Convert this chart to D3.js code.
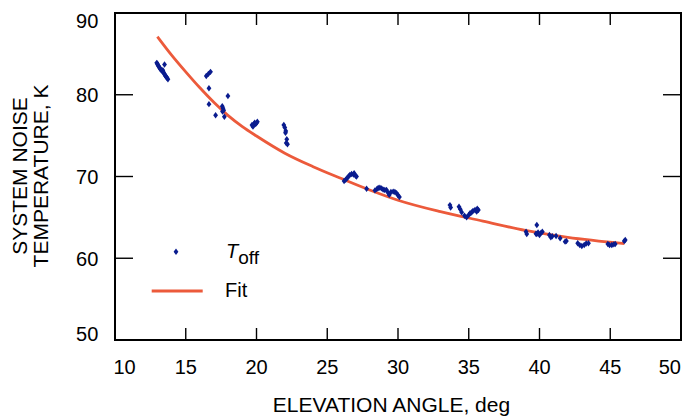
<!DOCTYPE html>
<html>
<head>
<meta charset="utf-8">
<script src="https://cdn.jsdelivr.net/npm/d3@7"></script>
<style>
  html, body { margin: 0; padding: 0; background: #fff; }
  svg { display: block; }
  text { font-family: "Liberation Sans", Arial, Helvetica, sans-serif; fill: #000; }
</style>
</head>
<body>
<svg id="chart" width="683" height="417"></svg>
<script>
// ---- Data ----
const offElev = [
  12.95, 12.99, 13.03, 13.08, 13.12, 13.17, 13.22, 13.28, 13.33, 13.38, 13.42, 13.47, 13.52, 13.57, 13.62, 13.68, 13.74, 13.5,
  16.45, 16.6, 16.75, 16.64, 16.64, 17.98, 17.11, 17.58, 17.63, 17.68, 17.6, 17.73,
  19.68, 19.75, 19.8, 19.87, 19.94, 20.06, 20.0,
  21.93, 22.0, 22.07, 22.05, 22.14, 22.19, 22.1,
  26.19, 26.3, 26.4, 26.5, 26.6, 26.72, 26.85, 26.9, 27.0, 27.07,
  27.78,
  28.37, 28.5, 28.6, 28.72, 28.84, 28.95, 29.07, 29.19, 29.3, 29.38, 29.5, 29.66, 29.78, 29.9, 30.0, 30.1,
  33.67, 33.72, 34.31, 34.4, 34.5, 34.7, 34.85, 35.0, 35.09, 35.2, 35.3, 35.44, 35.56, 35.68, 35.6,
  39.05, 39.1, 39.81, 39.75, 39.81, 39.9, 40.0, 40.2, 40.1, 40.7, 40.8, 40.9, 41.17, 41.46, 41.81, 41.9,
  42.7, 42.85, 42.99, 43.16, 43.3, 43.46, 44.83, 44.95, 45.11, 45.25, 45.35, 45.99, 46.06
];
const offTemp = [
  83.9, 83.8, 83.65, 83.5, 83.4, 83.25, 83.1, 83.0, 82.9, 83.0, 82.75, 82.6, 82.45, 82.3, 82.2, 82.05, 81.9, 83.7,
  82.3, 82.55, 82.8, 80.8, 78.85, 79.85, 77.5, 78.6, 78.35, 78.1, 77.95, 77.3,
  76.3, 76.1, 76.4, 76.58, 76.42, 76.7, 76.55,
  76.3, 76.0, 75.57, 75.36, 74.55, 73.94, 74.1,
  69.45, 69.6, 69.8, 70.0, 70.2, 70.3, 70.25, 70.4, 70.1, 70.0,
  68.5,
  68.3, 68.45, 68.6, 68.63, 68.55, 68.4, 68.35, 68.35, 68.0, 67.75, 68.1, 68.15, 68.1, 67.95, 67.7, 67.5,
  66.5, 66.2, 66.3, 66.0, 65.62, 65.2, 65.0, 65.3, 65.5, 65.6, 65.8, 65.9, 65.7, 65.9, 66.05,
  63.25, 62.97, 64.07, 63.0, 62.97, 63.15, 62.84, 63.25, 63.1, 62.84, 62.56, 62.7, 62.73, 62.44, 62.03, 62.1,
  61.83, 61.6, 61.5, 61.62, 61.8, 61.83, 61.74, 61.6, 61.62, 61.7, 61.74, 62.1, 62.23
];
const fitElev = [13, 14, 15, 16, 17, 18, 19, 20, 22, 24, 26, 28, 30, 33, 36, 39, 42, 46];
const fitTemp = [87.1, 84.85, 82.8, 80.85, 79.05, 77.45, 76.1, 74.95, 72.85, 71.2, 69.75, 68.35, 67.1, 65.7, 64.55, 63.4, 62.55, 61.8];
const xTicks = [10, 15, 20, 25, 30, 35, 40, 45, 50];
const yTicks = [50, 60, 70, 80, 90];
const xTitle = "ELEVATION ANGLE, deg";
const yTitle = ["SYSTEM NOISE", "TEMPERATURE, K"];

// ---- Layout ----
const L = 115, R = 681, T = 13, B = 340;
const svg = d3.select("#chart");
const x = d3.scaleLinear().domain([10, 50]).range([L, R]);
const y = d3.scaleLinear().domain([50, 90]).range([B, T]);
const dotColor = "#0a1c8f";
const fitColor = "#ec5a3b";

// Frame
svg.append("rect").attr("x", L).attr("y", T).attr("width", R - L).attr("height", B - T)
  .attr("fill", "none").attr("stroke", "#000").attr("stroke-width", 2);

// Ticks (inside, on all four sides)
const tk = svg.append("g").attr("stroke", "#000").attr("stroke-width", 1.4);
xTicks.slice(1, -1).forEach(v => {
  tk.append("line").attr("x1", x(v)).attr("x2", x(v)).attr("y1", B).attr("y2", B - 12);
  tk.append("line").attr("x1", x(v)).attr("x2", x(v)).attr("y1", T).attr("y2", T + 12);
});
yTicks.slice(1, -1).forEach(v => {
  tk.append("line").attr("x1", L).attr("x2", L + 18).attr("y1", y(v)).attr("y2", y(v));
  tk.append("line").attr("x1", R).attr("x2", R - 18).attr("y1", y(v)).attr("y2", y(v));
});

// Tick labels
xTicks.forEach((v, i) => {
  const t = svg.append("text").attr("y", B + 33.5).attr("font-size", 20).text(v);
  if (i === 0) t.attr("x", x(v) - 1.5).attr("text-anchor", "start");
  else if (i === xTicks.length - 1) t.attr("x", x(v)).attr("text-anchor", "end");
  else t.attr("x", x(v)).attr("text-anchor", "middle");
});
yTicks.forEach((v, i) => {
  let by = y(v) + 7.3;
  if (v === 90) by = T + 15.3;
  if (v === 50) by = B + 0.7;
  svg.append("text").attr("x", 98.3).attr("y", by).attr("text-anchor", "end")
    .attr("font-size", 20).text(v);
});

// Axis titles
svg.append("text").attr("x", 391.5).attr("y", 411.5).attr("text-anchor", "middle")
  .attr("font-size", 21).text(xTitle);
yTitle.forEach((s, i) => {
  svg.append("text").attr("transform", `translate(${26.7 + i * 21.6},176) rotate(-90)`)
    .attr("text-anchor", "middle").attr("font-size", 21).text(s);
});

// Fit line
const line = d3.line().x((d, i) => x(fitElev[i])).y((d, i) => y(fitTemp[i])).curve(d3.curveMonotoneX);
svg.append("path").datum(fitElev).attr("d", line).attr("fill", "none")
  .attr("stroke", fitColor).attr("stroke-width", 2.8);

// Data points (diamonds)
const diamond = "M0,-3.2L2.4,0L0,3.2L-2.4,0Z";
svg.append("g").selectAll("path").data(offElev).join("path")
  .attr("d", diamond)
  .attr("transform", (d, i) => `translate(${x(d)},${y(offTemp[i])})`)
  .attr("fill", dotColor);

// Legend
svg.append("path").attr("d", diamond).attr("transform", "translate(176,251.7)").attr("fill", dotColor);
const lt = svg.append("text").attr("x", 226).attr("y", 258.3).attr("font-size", 20);
lt.append("tspan").attr("font-style", "italic").text("T");
lt.append("tspan").attr("dy", 5.2).attr("font-size", 19).text("off");
svg.append("line").attr("x1", 151.7).attr("x2", 202.7).attr("y1", 291).attr("y2", 291)
  .attr("stroke", fitColor).attr("stroke-width", 2.8);
svg.append("text").attr("x", 225).attr("y", 297.3).attr("font-size", 20).text("Fit");
</script>
</body>
</html>
